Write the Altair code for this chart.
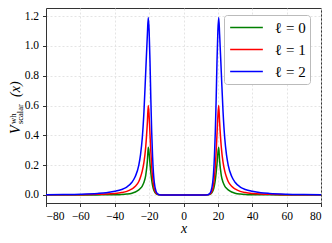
import altair as alt
import pandas as pd

# x positions (tortoise-like coordinate)
x_vals = [-80, -70, -60, -50, -45, -40, -36, -33, -30, -28, -26, -25, -24, -23, -22, -21, -20.5, -20, -19.5, -19,
          -18.5, -18, -17.5, -17, -16, -15, -14, -12, 0,
          12, 14, 15, 16, 17, 17.5, 18, 18.5, 19, 19.5, 20, 20.5, 21, 22, 23, 24, 25, 26, 28, 30, 33, 36, 40, 45,
          50, 60, 70, 80]

v_l0 = [0.0, 0.0, 0.0002, 0.0005, 0.001, 0.0015, 0.003, 0.006, 0.012, 0.02, 0.034, 0.045, 0.06, 0.085, 0.13, 0.23,
        0.32, 0.28, 0.21, 0.15, 0.10, 0.065, 0.04, 0.025, 0.009, 0.003, 0.001, 0.0, 0.0,
        0.0, 0.001, 0.003, 0.009, 0.025, 0.04, 0.065, 0.10, 0.15, 0.21, 0.28, 0.32, 0.23, 0.13, 0.085, 0.06, 0.045,
        0.034, 0.02, 0.012, 0.006, 0.003, 0.0015, 0.001, 0.0005, 0.0002, 0.0, 0.0]

v_l1 = [0.0008, 0.0012, 0.002, 0.004, 0.006, 0.010, 0.016, 0.024, 0.040, 0.058, 0.09, 0.12, 0.16, 0.22, 0.32, 0.49,
        0.60, 0.53, 0.41, 0.29, 0.19, 0.12, 0.07, 0.04, 0.013, 0.004, 0.001, 0.0, 0.0,
        0.0, 0.001, 0.004, 0.013, 0.04, 0.07, 0.12, 0.19, 0.29, 0.41, 0.53, 0.60, 0.49, 0.32, 0.22, 0.16, 0.12,
        0.09, 0.058, 0.040, 0.024, 0.016, 0.010, 0.006, 0.004, 0.002, 0.0012, 0.0008]

v_l2 = [0.002, 0.003, 0.005, 0.010, 0.015, 0.025, 0.037, 0.053, 0.085, 0.125, 0.20, 0.27, 0.38, 0.56, 0.82, 1.08,
        1.19, 1.10, 0.90, 0.64, 0.42, 0.26, 0.15, 0.085, 0.025, 0.007, 0.0015, 0.0, 0.0,
        0.0, 0.0015, 0.007, 0.025, 0.085, 0.15, 0.26, 0.42, 0.64, 0.90, 1.10, 1.19, 1.08, 0.82, 0.56, 0.38, 0.27,
        0.20, 0.125, 0.085, 0.053, 0.037, 0.025, 0.015, 0.010, 0.005, 0.003, 0.002]

labels = ["ℓ = 0", "ℓ = 1", "ℓ = 2"]
colors = ["#008000", "#ff0000", "#0000ff"]
x_ticks = [-80, -60, -40, -20, 0, 20, 40, 60, 80]
y_ticks = [0.0, 0.2, 0.4, 0.6, 0.8, 1.0, 1.2]

rows = []
for lab, vs in zip(labels, [v_l0, v_l1, v_l2]):
    for xv, vv in zip(x_vals, vs):
        rows.append({"x": xv, "V": vv, "series": lab})
df = pd.DataFrame(rows)

SERIF = "Liberation Serif"

lines = alt.Chart(df).mark_line(strokeWidth=1.5, interpolate="monotone", clip=True).encode(
    x=alt.X("x:Q", scale=alt.Scale(domain=[-80, 80], nice=False, zero=False),
            axis=alt.Axis(values=x_ticks, title="x", titleFontStyle="italic", titleFont=SERIF,
                          titleFontSize=14, titleFontWeight="normal", titlePadding=-1, titleColor="black",
                          labelFont=SERIF, labelPadding=4)),
    y=alt.Y("V:Q", scale=alt.Scale(domain=[-0.054, 1.254], nice=False, zero=False),
            axis=alt.Axis(values=y_ticks, format=".1f", title=None, labelPadding=4, labelFont=SERIF)),
    color=alt.Color("series:N", scale=alt.Scale(domain=labels, range=colors),
                    legend=alt.Legend(title=None, orient="none", legendX=178, legendY=7,
                                      padding=4, symbolOffset=10, labelOffset=20,
                                      symbolType="M-2.18,0H2.18", symbolSize=225,
                                      symbolStrokeWidth=1.5, rowPadding=5,
                                      labelFont=SERIF, labelFontSize=15, labelColor="black",
                                      fillColor="white", strokeColor="#bbbbbb", cornerRadius=3)),
    order=alt.Order("x:Q"),
)


def title_piece(txt, xpos, ypos, size, italic):
    return alt.Chart(pd.DataFrame({"t": [txt]})).mark_text(
        angle=270, align="left", baseline="alphabetic", font=SERIF,
        fontStyle="italic" if italic else "normal", fontSize=size, color="black"
    ).encode(x=alt.value(xpos), y=alt.value(ypos), text="t:N")


t_V = title_piece("V", -26, 126, 14, True)
t_wh = title_piece("wh", -30.5, 116, 8.5, False)
t_sc = title_piece("scalar", -23, 116, 8.5, False)
t_x = title_piece("(x)", -26, 89, 14, True)

chart = alt.layer(lines, t_V, t_wh, t_sc, t_x).properties(
    width=275, height=195,
    autosize=alt.AutoSizeParams(type="none"),
    padding={"left": 38, "top": 0, "right": 3, "bottom": 32},
).configure(font=SERIF).configure_view(stroke="#333333", strokeWidth=1).configure_axis(
    labelFont=SERIF, labelFontSize=11.5, labelColor="black",
    tickColor="#333333", tickSize=3.5, domainColor="#333333",
    grid=True, gridDash=[2, 2], gridColor="#dddddd", gridWidth=0.8,
)

chart.save("out.html", embed_options={"renderer": "svg", "actions": False})
